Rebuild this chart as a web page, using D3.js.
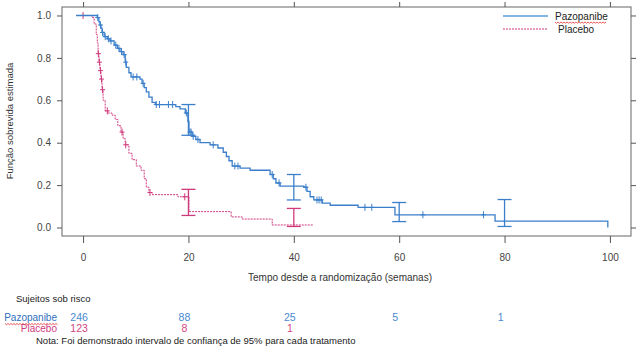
<!DOCTYPE html>
<html>
<head>
<meta charset="utf-8">
<script src="https://cdn.jsdelivr.net/npm/d3@7"></script>
<style>
  body { margin: 0; background: #fff; }
  text { font-family: "Liberation Sans", Arial, sans-serif; }
</style>
</head>
<body>
<svg id="chart" width="641" height="353"></svg>
<script>
// Kaplan-Meier steps: [week, survival after step]
var pazoSteps = [[-1.3,1],[2.7,0.99],[3.0,0.97],[3.2,0.955],[3.4,0.94],[3.6,0.92],[4.0,0.9],[4.6,0.89],[5.1,0.88],
  [5.9,0.86],[6.5,0.845],[7.0,0.83],[7.6,0.815],[8.0,0.78],[8.2,0.755],[8.7,0.73],[9.1,0.71],[10.8,0.70],
  [11.2,0.68],[11.6,0.66],[12.0,0.64],[12.5,0.615],[13.1,0.59],[13.7,0.58],[17.6,0.57],[18.4,0.56],[19.4,0.54],
  [19.9,0.50],[20.1,0.45],[20.7,0.43],[21.4,0.415],[22.2,0.40],[24.1,0.39],[25.6,0.375],[26.6,0.355],[27.2,0.335],
  [27.7,0.315],[28.3,0.29],[29.8,0.28],[31.7,0.27],[35.5,0.25],[36.1,0.23],[36.6,0.21],[37.4,0.195],[41.9,0.19],
  [42.5,0.17],[43.1,0.145],[43.8,0.13],[45.4,0.115],[46.9,0.105],[52.2,0.095],[59.2,0.06],[78.2,0.03],[99.6,0]]
var placSteps = [[-1.3,1],[1.7,0.99],[2.1,0.96],[2.5,0.91],[2.7,0.87],[2.85,0.82],[3.0,0.78],[3.2,0.74],[3.4,0.70],
  [3.6,0.65],[3.8,0.60],[4.2,0.55],[4.7,0.54],[5.5,0.53],[6.1,0.51],[6.6,0.48],[7.2,0.45],[7.6,0.42],[8.0,0.39],
  [8.7,0.35],[9.3,0.32],[10.1,0.29],[11.0,0.27],[11.6,0.23],[12.0,0.19],[12.5,0.165],[13.1,0.155],[18.0,0.145],
  [20.1,0.075],[28.1,0.05],[30.2,0.04],[35.9,0.012],[43.6,0.012]]

var pazoCensor = [2.8,3.3,3.7,4.2,4.8,5.3,6.2,6.8,7.3,7.8,8.1,9.5,10.2,11.4,13.9,14.5,16.2,17.0,19.6,20.3,20.5,20.9,
  21.8,24.7,28.8,29.4,35.9,37.2,42.3,44.4,44.8,45.2,53.5,54.8,64.5,76.0]
var placCensor = [0,2.9,3.1,3.3,3.5,3.7,4.6,7.4,8.1,12.7,19.3]

// confidence intervals at [week, low, high]
var pazoCI = [[20,0.435,0.58],[40,0.13,0.25],[60,0.028,0.118],[80,0.005,0.132]]
var placCI = [[20,0.057,0.18],[40,0.005,0.09]]

var xTicks = [0,20,40,60,80,100]
var yTicks = [0,0.2,0.4,0.6,0.8,1.0]
var riskWeeks = [0,20,40,60,80]
var pazoRisk = [246,88,25,5,1]
var placRisk = [123,8,1]

var blue = "#3b7fcb", pink = "#cf3a7d"

var svg = d3.select("#chart")
var x = d3.scaleLinear().domain([-4,104]).range([62,631])
var y = d3.scaleLinear().domain([-0.04,1.04]).range([236,7])

// frame
svg.append("rect").attr("x",62).attr("y",7).attr("width",569).attr("height",229)
  .attr("fill","none").attr("stroke","#666").attr("stroke-width",1)

function styleAxis(g) {
  g.select(".domain").remove()
  g.selectAll("line").attr("stroke","#555")
  g.selectAll("text").attr("fill","#444").style("font-size","10px")
}
svg.append("g").attr("transform","translate(0,236)")
  .call(d3.axisBottom(x).tickValues(xTicks).tickSize(7).tickPadding(11).tickFormat(d3.format("d")))
  .call(styleAxis)
svg.append("g").attr("transform","translate(0,7)")
  .call(d3.axisTop(x).tickValues(xTicks).tickSize(5).tickFormat(""))
  .call(styleAxis)
svg.append("g").attr("transform","translate(62,0)")
  .call(d3.axisLeft(y).tickValues(yTicks).tickSize(5).tickPadding(6).tickFormat(d3.format(".1f")))
  .call(styleAxis)
svg.append("g").attr("transform","translate(631,0)")
  .call(d3.axisRight(y).tickValues(yTicks).tickSize(5).tickFormat(""))
  .call(styleAxis)

var line = d3.line().curve(d3.curveStepAfter).x(d => x(d[0])).y(d => y(d[1]))

function survAt(steps, t) {
  var s = steps[0][1]
  steps.forEach(d => { if (d[0] <= t) s = d[1] })
  return s
}

function drawArm(steps, censor, ci, color, dash, width) {
  svg.append("path").datum(steps).attr("d", line)
    .attr("fill","none").attr("stroke",color).attr("stroke-width",width)
    .attr("stroke-dasharray",dash)
  var g = svg.append("g").attr("stroke",color).attr("stroke-width",1)
  censor.forEach(t => {
    var cx = x(t), cy = y(survAt(steps,t))
    g.append("line").attr("x1",cx).attr("x2",cx).attr("y1",cy-3.5).attr("y2",cy+3.5)
    g.append("line").attr("x1",cx-2.5).attr("x2",cx+2.5).attr("y1",cy).attr("y2",cy)
  })
  var c = svg.append("g").attr("stroke",color).attr("stroke-width",1.3)
  ci.forEach(d => {
    c.append("line").attr("x1",x(d[0])).attr("x2",x(d[0])).attr("y1",y(d[1])).attr("y2",y(d[2]))
    c.append("line").attr("x1",x(d[0])-7).attr("x2",x(d[0])+7).attr("y1",y(d[1])).attr("y2",y(d[1]))
    c.append("line").attr("x1",x(d[0])-7).attr("x2",x(d[0])+7).attr("y1",y(d[2])).attr("y2",y(d[2]))
  })
}
drawArm(placSteps, placCensor, placCI, pink, "2,1", 1)
drawArm(pazoSteps, pazoCensor, pazoCI, blue, null, 1.3)

function squiggle(x0, x1, yy) {
  var p = "M" + x0 + "," + yy
  for (var i = x0, k = 0; i < x1; i += 1.5, k++) p += "L" + (i + 1.5) + "," + (yy + (k % 2 ? 0 : 1.2))
  svg.append("path").attr("d",p).attr("fill","none").attr("stroke","#e03030").attr("stroke-width",0.8)
}

// legend
svg.append("line").attr("x1",503).attr("x2",548).attr("y1",16).attr("y2",16)
  .attr("stroke","#5b9bd5").attr("stroke-width",1.3)
svg.append("line").attr("x1",503).attr("x2",548).attr("y1",29).attr("y2",29)
  .attr("stroke",pink).attr("stroke-width",1).attr("stroke-dasharray","2,1")
svg.append("text").attr("x",555).attr("y",19.5).text("Pazopanibe").attr("fill","#222").style("font-size","10px")
squiggle(555, 606, 22)
svg.append("text").attr("x",558).attr("y",32.5).text("Placebo").attr("fill","#222").style("font-size","10px")

// axis titles
svg.append("text").attr("transform","translate(13,121) rotate(-90)").attr("text-anchor","middle")
  .text("Função sobrevida estimada").attr("fill","#333").style("font-size","9.5px")
svg.append("text").attr("x",340).attr("y",281).attr("text-anchor","middle")
  .text("Tempo desde a randomização (semanas)").attr("fill","#333").style("font-size","10px")

// number at risk
svg.append("text").attr("x",16).attr("y",302).text("Sujeitos sob risco").attr("fill","#222").style("font-size","9.5px")
svg.append("text").attr("x",57).attr("y",321).attr("text-anchor","end").text("Pazopanibe")
  .attr("fill","#2f6fc0").style("font-size","10px")
squiggle(5, 57, 323.5)
svg.append("text").attr("x",57).attr("y",332).attr("text-anchor","end").text("Placebo")
  .attr("fill",pink).style("font-size","10px")
svg.selectAll(".rp").data(pazoRisk).enter().append("text").attr("class","rp")
  .attr("x",(d,i) => x(riskWeeks[i]) - 4).attr("y",321).attr("text-anchor","middle")
  .text(d => d).attr("fill","#4a88d2").style("font-size","10.5px")
svg.selectAll(".rq").data(placRisk).enter().append("text").attr("class","rq")
  .attr("x",(d,i) => x(riskWeeks[i]) - 4).attr("y",332).attr("text-anchor","middle")
  .text(d => d).attr("fill","#d4457f").style("font-size","10.5px")
svg.append("text").attr("x",36).attr("y",344)
  .text("Nota: Foi demonstrado intervalo de confiança de 95% para cada tratamento")
  .attr("fill","#222").style("font-size","9.5px")
</script>
</body>
</html>
